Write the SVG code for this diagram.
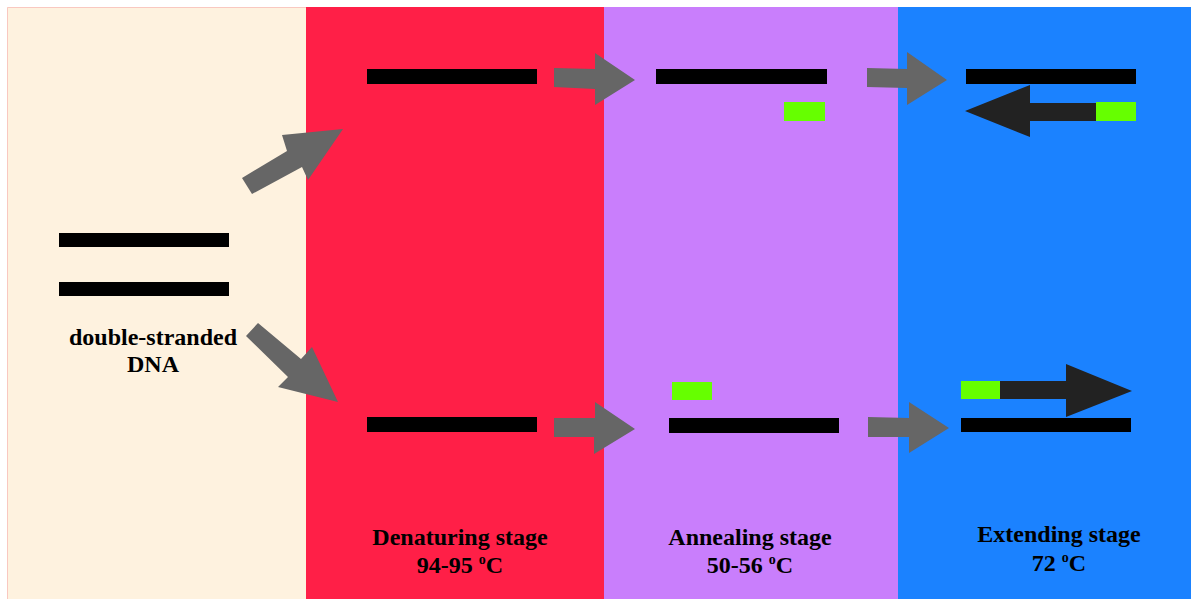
<svg xmlns="http://www.w3.org/2000/svg" width="1191" height="599" viewBox="0 0 1191 599">
<style>
.strand{fill:#000}
.primer{fill:#66ff00}
.step{fill:#666666}
.ext{fill:#222222}
.lbl{font-family:"Liberation Serif","Times New Roman",serif;font-weight:bold;font-size:24px;fill:#000;text-anchor:middle}
.sup{font-size:14px}
</style>
<rect x="0" y="0" width="1191" height="599" fill="#ffffff"/>
<g id="panels">
<rect x="7" y="7" width="299" height="592" fill="#fef2df"/>
<path d="M7.5,599 V7.5 H306" fill="none" stroke="#f9c8c0" stroke-width="1"/>
<rect x="306" y="7" width="298" height="592" fill="#ff1f47"/>
<rect x="604" y="7" width="294" height="592" fill="#c97efc"/>
<rect x="898" y="7" width="293" height="592" fill="#1b82ff"/>
</g>
<g id="dsDNA">
<rect class="strand" x="59" y="233" width="170" height="14"/>
<rect class="strand" x="59" y="282" width="170" height="14"/>
<text class="lbl" x="153" y="345">double-stranded</text>
<text class="lbl" x="153" y="372">DNA</text>
</g>
<g id="denaturing">
<rect class="strand" x="367" y="69" width="170" height="15"/>
<rect class="strand" x="367" y="417" width="170" height="15"/>
<text class="lbl" x="460" y="545">Denaturing stage</text>
<text class="lbl" x="460" y="573">94-95 <tspan class="sup" dy="-9">o</tspan><tspan dy="9">C</tspan></text>
</g>
<g id="annealing">
<rect class="strand" x="656" y="69" width="171" height="15"/>
<rect class="primer" x="784" y="102" width="41" height="19"/>
<rect class="strand" x="669" y="418" width="170" height="15"/>
<rect class="primer" x="672" y="382" width="40" height="18"/>
<text class="lbl" x="750" y="545">Annealing stage</text>
<text class="lbl" x="750" y="573">50-56 <tspan class="sup" dy="-9">o</tspan><tspan dy="9">C</tspan></text>
</g>
<g id="extending">
<rect class="strand" x="966" y="69" width="170" height="15"/>
<polygon class="ext" points="1096,103 1030,103 1030,85 965,111 1030,137 1030,121 1096,121"/>
<rect class="primer" x="1096" y="102" width="40" height="19"/>
<rect class="strand" x="961" y="418" width="170" height="14"/>
<polygon class="ext" points="1000,381 1066,381 1066,364 1132,391 1066,417 1066,399 1000,399"/>
<rect class="primer" x="961" y="381" width="39" height="18"/>
<text class="lbl" x="1059" y="542">Extending stage</text>
<text class="lbl" x="1059" y="571">72 <tspan class="sup" dy="-9">o</tspan><tspan dy="9">C</tspan></text>
</g>
<g id="connectors">
<polygon class="step" points="242,178 287,151 282,135 343,129 308,180 302,167 252,194"/>
<polygon class="step" points="258,323 301,359 312,347 338,402 278,387 288,377 246,336"/>
<polygon class="step" points="554,68 595,69 595,53 635,80 595,105 595,89 554,87"/>
<polygon class="step" points="867,68 907,69 907,52 947,80 907,105 907,88 867,87"/>
<polygon class="step" points="554,418 595,418 595,402 635,429 594,454 594,437 554,437"/>
<polygon class="step" points="868,417 909,418 909,402 949,428 909,453 909,437 868,437"/>
</g>
</svg>
